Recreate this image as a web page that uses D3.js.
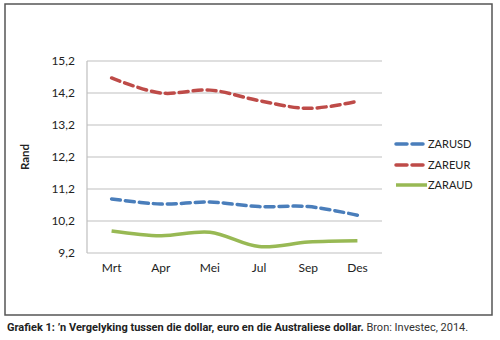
<!DOCTYPE html>
<html><head><meta charset="utf-8">
<script src="https://cdn.jsdelivr.net/npm/d3@7"></script>
<style>
body{margin:0;background:#fff;}
svg{display:block;}
</style></head>
<body>
<svg id="c" width="500" height="340"></svg>
<script>
const months = ["Mrt","Apr","Mei","Jul","Sep","Des"];
const zarusd = [10.89, 10.73, 10.79, 10.65, 10.65, 10.38];
const zareur = [14.67, 14.20, 14.29, 13.96, 13.72, 13.94];
const zaraud = [9.89, 9.74, 9.85, 9.40, 9.54, 9.58];
const yTicks = [9.2, 10.2, 11.2, 12.2, 13.2, 14.2, 15.2];
const seriesNames = ["ZARUSD","ZAREUR","ZARAUD"];
const colors = ["#4a7ebb","#be4b48","#98b954"];
const dashed = [true, true, false];

(function(){
const svg = d3.select("#c");
const font = "Lato, 'Open Sans', sans-serif";

// outer frame
svg.append("rect").attr("x",5).attr("y",4).attr("width",487).attr("height",311)
  .attr("fill","#fff").attr("stroke","#555").attr("stroke-width",1.5);

const pL = 87, pR = 382, pT = 61, pB = 253;
const x = d3.scaleBand().domain(months).range([pL, pR]);
const y = d3.scaleLinear().domain([9.2, 15.2]).range([pB, pT]);

// gridlines
svg.append("g").selectAll("line").data(yTicks).join("line")
  .attr("x1", pL).attr("x2", pR)
  .attr("y1", d => y(d)).attr("y2", d => y(d))
  .attr("stroke", "#bfbfbf").attr("stroke-width", 1.2);
svg.append("line").attr("x1",pL).attr("x2",pL).attr("y1",pT).attr("y2",pB)
  .attr("stroke","#bfbfbf").attr("stroke-width",1.2);

// y axis labels
const fmt = d => d3.format(".1f")(d).replace(".", ",");
const yAxis = d3.axisLeft(y).tickValues(yTicks).tickFormat(fmt).tickSize(0).tickPadding(12);
const ya = svg.append("g").attr("transform", `translate(${pL},0)`).call(yAxis);
ya.select(".domain").remove();
ya.selectAll("text").attr("font-family", font).attr("font-size", 12).attr("fill", "#222");

// x axis labels
const xAxis = d3.axisBottom(x).tickSize(0).tickPadding(10);
const xa = svg.append("g").attr("transform", `translate(0,${pB})`).call(xAxis);
xa.select(".domain").remove();
xa.selectAll("text").attr("font-family", font).attr("font-size", 12).attr("fill", "#222");

// y title
svg.append("text").attr("transform", "translate(29,157) rotate(-90)")
  .attr("text-anchor","middle").attr("font-family", font).attr("font-weight","bold")
  .attr("font-size", 11.5).attr("fill","#222").text("Rand");

// lines
const line = d3.line()
  .x((d,i) => x(months[i]) + x.bandwidth()/2)
  .y(d => y(d))
  .curve(d3.curveCatmullRom.alpha(0.5));
[zarusd, zareur, zaraud].forEach((s, k) => {
  svg.append("path").attr("d", line(s)).attr("fill","none")
    .attr("stroke", colors[k]).attr("stroke-width", 3.5)
    .attr("stroke-dasharray", dashed[k] ? "9,5" : null)
    .attr("stroke-linecap", dashed[k] ? "round" : "butt");
});

// legend
const legY = [144, 165, 185];
seriesNames.forEach((n, k) => {
  svg.append("line").attr("x1", 396).attr("x2", 427).attr("y1", legY[k]).attr("y2", legY[k])
    .attr("stroke", colors[k]).attr("stroke-width", 3.5)
    .attr("stroke-dasharray", dashed[k] ? "11,5" : null)
    .attr("stroke-linecap", dashed[k] ? "round" : "butt");
  svg.append("text").attr("x", 428).attr("y", legY[k] + 4)
    .attr("font-family", font).attr("font-size", 11).attr("fill","#222").text(n);
});

// caption
const cap = svg.append("text").attr("x", 7).attr("y", 331)
  .attr("font-family", "Roboto, sans-serif")
  .attr("font-size", 11).attr("fill","#222");
cap.append("tspan").attr("font-weight","bold")
  .text("Grafiek 1: \u2019n Vergelyking tussen die dollar, euro en die Australiese dollar.");
cap.append("tspan").attr("fill","#333").text(" Bron: Investec, 2014.");
})();
</script>
</body></html>
